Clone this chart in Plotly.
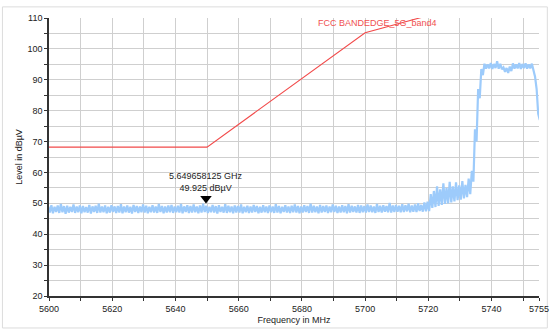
import plotly.graph_objects as go

# ---- data ----
FREQ_MHZ = list(range(5600, 5756))  # 1 MHz steps, 5600..5755

TRACE_UPPER = [
    49.0, 49.4, 48.9, 49.3, 49.8, 49.1, 49.2, 48.9, 49.6, 49.0,
    49.3, 49.1, 48.8, 49.5, 49.0, 49.2, 49.9, 49.0, 49.3, 48.9,
    49.4, 49.0, 49.1, 49.7, 49.0, 49.3, 48.9, 49.5, 49.1, 49.0,
    49.6, 49.2, 48.9, 49.4, 49.0, 49.8, 49.1, 49.0, 49.3, 49.5,
    49.0, 49.2, 49.8, 49.0, 49.4, 49.1, 49.6, 49.0, 49.3, 49.9,
    49.2, 48.9, 49.5, 49.1, 49.4, 48.9, 49.7, 49.2, 49.0, 49.3,
    49.1, 49.6, 48.9, 49.2, 49.0, 49.5, 49.1, 48.9, 49.4, 49.0,
    49.3, 49.0, 49.7, 49.1, 48.9, 49.4, 49.0, 49.2, 49.6, 49.1,
    49.0, 49.4, 49.1, 49.9, 49.2, 49.0, 49.5, 49.1, 49.3, 49.0,
    49.6, 49.2, 49.0, 49.4, 49.1, 49.7, 49.2, 49.0, 49.5, 49.3,
    49.1, 49.6, 49.3, 49.0, 49.8, 49.2, 49.4, 49.1, 50.1, 49.3,
    49.5, 49.2, 49.7, 49.4, 49.9, 49.3, 49.6, 50.0, 49.5, 50.3,
    50.5, 53.0, 54.0, 55.5, 54.5, 56.5, 55.0, 57.0, 55.5, 56.8,
    55.8, 57.2, 56.0, 58.0, 60.5, 74.0, 87.0, 93.5, 95.2, 95.0,
    95.4, 95.1, 96.0, 95.2, 94.0, 93.8, 94.3, 95.3, 95.0, 95.4,
    95.1, 95.3, 95.0, 95.2, 91.0, 79.0,
]
TRACE_LOWER = [
    47.0, 46.8, 47.2, 46.9, 47.1, 46.6, 47.0, 47.2, 46.9, 47.1,
    46.8, 47.1, 47.0, 46.7, 47.2, 46.9, 47.0, 47.1, 46.8, 47.0,
    47.2, 46.9, 47.0, 46.8, 47.1, 47.0, 46.7, 47.2, 46.9, 47.1,
    47.0, 46.8, 47.1, 47.0, 46.9, 47.2, 46.8, 47.0, 47.1, 46.9,
    47.1, 47.0, 46.8, 47.2, 46.9, 47.0, 47.1, 46.8, 47.0, 47.2,
    46.9, 47.1, 47.0, 46.7, 47.2, 47.0, 46.9, 47.1, 46.8, 47.0,
    47.0, 46.8, 47.1, 46.9, 47.0, 47.2, 46.8, 47.0, 47.1, 46.9,
    47.1, 46.9, 47.0, 46.8, 47.2, 47.0, 46.9, 47.1, 47.0, 46.8,
    47.0, 47.2, 46.9, 47.0, 47.1, 46.8, 47.0, 47.2, 46.9, 47.1,
    47.2, 46.9, 47.0, 47.1, 46.8, 47.0, 47.2, 47.0, 46.9, 47.1,
    47.0, 47.2, 47.1, 46.9, 47.2, 47.0, 47.3, 47.1, 47.0, 47.2,
    47.3, 47.1, 47.2, 47.4, 47.1, 47.3, 47.2, 47.5, 47.3, 47.4,
    47.5, 48.5, 48.8, 49.2, 49.5, 49.8, 50.0, 50.3, 50.6, 51.0,
    51.2, 51.6, 52.0, 53.0, 57.0, 70.0, 84.0, 91.5, 93.6, 93.7,
    93.5, 93.8, 93.6, 93.4, 92.6, 92.2, 92.8, 93.6, 93.7, 93.5,
    93.8, 93.6, 93.7, 93.5, 87.0, 77.0,
]

LIMIT_FREQ = [5600, 5650, 5700, 5720, 5725]
LIMIT_LEVEL = [68.2, 68.2, 105.2, 110.8, 122.2]
LIMIT_NAME = "FCC BANDEDGE_5G_band4"

MARKER_FREQ = 5649.658125
MARKER_LEVEL = 49.925

X_TICKS = [5600, 5610, 5620, 5630, 5640, 5650, 5660, 5670, 5680, 5690,
           5700, 5710, 5720, 5730, 5740, 5750, 5755]
X_LABELS = ["5600", "", "5620", "", "5640", "", "5660", "", "5680", "",
            "5700", "", "5720", "", "5740", "", "5755"]
Y_TICKS = list(range(20, 111, 5))
Y_LABELS = [str(v) if v % 10 == 0 else "" for v in Y_TICKS]

# interleave envelopes into a dense zig-zag so the trace reads as a noise band
zx, zy = [], []
for f, u, l in zip(FREQ_MHZ, TRACE_UPPER, TRACE_LOWER):
    zx += [f - 0.25, f + 0.25]
    zy += [u, l]

FONT = "Liberation Sans, Arial, sans-serif"

fig = go.Figure()
fig.add_trace(go.Scatter(x=zx, y=zy, mode="lines",
                         line=dict(color="#9dcbfb", width=2.2),
                         hoverinfo="skip", showlegend=False))
fig.add_trace(go.Scatter(x=LIMIT_FREQ, y=LIMIT_LEVEL, mode="lines",
                         line=dict(color="#f24a4a", width=1.1),
                         showlegend=False))
fig.add_trace(go.Scatter(x=[MARKER_FREQ], y=[MARKER_LEVEL], mode="markers",
                         marker=dict(symbol="triangle-up", size=10, color="black",
                                     angle=180, standoff=5),
                         showlegend=False))

fig.add_annotation(x=MARKER_FREQ, y=MARKER_LEVEL, xref="x", yref="y",
                   text=f"{MARKER_FREQ / 1000:.9f} GHz<br>{MARKER_LEVEL:.3f} dBµV",
                   showarrow=False, yanchor="bottom", yshift=9,
                   font=dict(family=FONT, size=9, color="#222"))
fig.add_annotation(x=5704, y=108.5, xref="x", yref="y", text=LIMIT_NAME,
                   showarrow=False, font=dict(family=FONT, size=9, color="#f05050"))

# outer light border
fig.add_shape(type="rect", xref="paper", yref="paper",
              x0=-0.095, x1=1.017, y0=-0.115, y1=1.04,
              line=dict(color="#dcdcdc", width=1), layer="below")

fig.update_layout(
    width=550, height=331,
    margin=dict(l=49, r=11, t=18, b=35, autoexpand=False),
    paper_bgcolor="white", plot_bgcolor="white",
    font=dict(family=FONT, size=9, color="#222"),
    showlegend=False,
)
fig.update_xaxes(range=[5600, 5755], tickmode="array", tickvals=X_TICKS, ticktext=X_LABELS,
                 showgrid=True, gridcolor="#cfcfcf", gridwidth=1, automargin=False,
                 showline=True, linecolor="#333", linewidth=1.5,
                 ticks="outside", ticklen=3, tickcolor="#333", zeroline=False,
                 title=dict(text="Frequency in MHz", standoff=4,
                            font=dict(family=FONT, size=9)))
fig.update_yaxes(range=[20, 110], tickmode="array", tickvals=Y_TICKS, ticktext=Y_LABELS,
                 showgrid=True, gridcolor="#cfcfcf", gridwidth=1, automargin=False,
                 showline=True, linecolor="#333", linewidth=1.5,
                 ticks="outside", ticklen=3, tickcolor="#333", zeroline=False,
                 title=dict(text="Level in dBµV", standoff=3,
                            font=dict(family=FONT, size=9)))

fig.write_html("out.html", config={"displayModeBar": False},
               post_script="document.body.style.margin='0';")
